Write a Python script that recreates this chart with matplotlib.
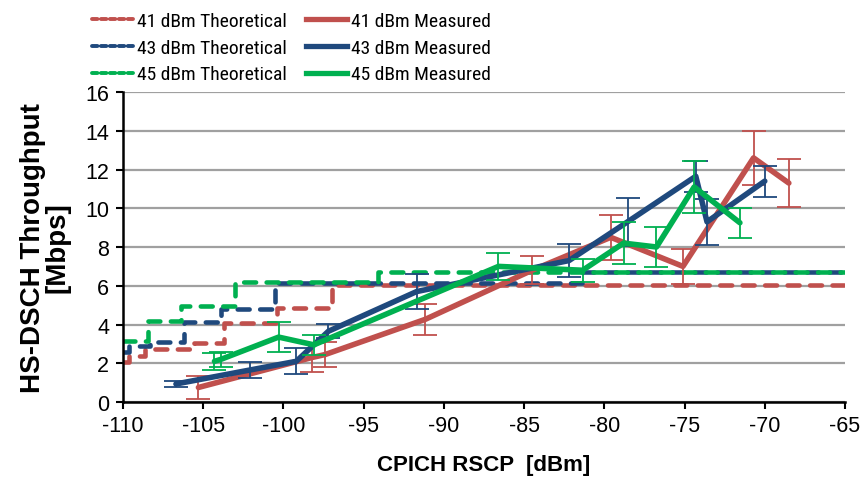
import matplotlib
matplotlib.use("Agg")
import matplotlib.pyplot as plt
from matplotlib import font_manager
from matplotlib.lines import Line2D

# Theoretical throughput (step curves)
theo_41_x = [-110, -109.6, -108.6, -105.6, -103.7, -100.4, -97.0, -65]
theo_41_y = [2.05, 2.35, 2.75, 3.05, 4.1, 4.85, 6.05, 6.05]
theo_43_x = [-110, -109.6, -108.3, -106.2, -103.9, -100.5, -81.4, -65]
theo_43_y = [2.6, 2.9, 3.1, 4.15, 4.8, 6.15, 6.7, 6.7]
theo_45_x = [-110, -108.45, -106.4, -103.05, -94.1, -65]
theo_45_y = [3.15, 4.2, 4.97, 6.18, 6.73, 6.73]

# Measured throughput with error bars
meas_41_x = [-105.3, -98.2, -97.4, -91.15, -84.5, -79.6, -75.1, -70.7, -68.5]
meas_41_y = [0.75, 2.3, 2.45, 4.27, 6.8, 8.5, 7.0, 12.6, 11.3]
meas_41_err = [0.6, 0.77, 0.63, 0.8, 0.72, 1.15, 0.9, 1.4, 1.25]

meas_43_x = [-106.7, -102.1, -99.2, -97.2, -91.7, -82.2, -78.55, -74.3, -73.6, -70.0]
meas_43_y = [0.93, 1.65, 2.1, 3.65, 5.7, 7.3, 9.3, 11.65, 9.3, 11.4]
meas_43_err = [0.17, 0.4, 0.68, 0.37, 0.9, 0.83, 1.25, 0.8, 1.2, 0.8]

meas_45_x = [-104.3, -103.9, -100.3, -98.1, -86.6, -81.35, -78.8, -76.75, -74.4, -71.55]
meas_45_y = [2.1, 2.2, 3.35, 2.95, 7.0, 6.8, 8.2, 8.0, 11.1, 9.25]
meas_45_err = [0.43, 0.4, 0.78, 0.51, 0.69, 0.6, 1.1, 1.03, 1.35, 0.78]

x_ticks = [-110, -105, -100, -95, -90, -85, -80, -75, -70, -65]
y_ticks = [0, 2, 4, 6, 8, 10, 12, 14, 16]

RED = "#C0504D"
BLUE = "#1F497D"
GREEN = "#00B050"

plt.rcParams["font.family"] = ["Liberation Sans", "DejaVu Sans"]
plt.rcParams["axes.unicode_minus"] = False

# Prefer a narrow sans for the legend if one is available
installed = {f.name for f in font_manager.fontManager.ttflist}
narrow = None
for cand in ("Liberation Sans Narrow", "Arial Narrow", "DejaVu Sans Condensed",
             "Roboto Condensed", "Open Sans Condensed"):
    if cand in installed:
        narrow = cand
        break
if narrow:
    legend_prop = {"family": [narrow, "Liberation Sans"], "size": 14}
else:
    legend_prop = {"family": ["Liberation Sans"], "size": 12}

W, H = 861, 485
L, R, T, B = 123, 845, 93, 403
fig = plt.figure(figsize=(W / 100, H / 100), dpi=100)
ax = fig.add_axes([L / W, 1 - B / H, (R - L) / W, (B - T) / H])

ax.set_xlim(-110, -65)
ax.set_ylim(0, 16)
ax.set_xticks(x_ticks)
ax.set_yticks(y_ticks)
ax.yaxis.grid(True, color="#A0A0A0", linewidth=1.6)
ax.set_axisbelow(True)
for s in ("top", "right"):
    ax.spines[s].set_visible(False)
for s in ("left", "bottom"):
    ax.spines[s].set_linewidth(1.8)
    ax.spines[s].set_color("black")
ax.tick_params(axis="both", direction="out", length=5, width=1.5, labelsize=15.5)
ax.tick_params(axis="y", pad=5)
ax.tick_params(axis="x", pad=4)

dash_kw = dict(linewidth=3.3, dashes=(2.6, 2.3), dash_capstyle="round",
               drawstyle="steps-post", zorder=2)
theo = [
    (theo_41_x, theo_41_y, RED, "41 dBm Theoretical"),
    (theo_43_x, theo_43_y, BLUE, "43 dBm Theoretical"),
    (theo_45_x, theo_45_y, GREEN, "45 dBm Theoretical"),
]
handles = []
for xs, ys, c, lab in theo:
    ax.plot(xs, ys, color=c, **dash_kw)
    handles.append(Line2D([], [], color=c, linewidth=2.8, dashes=(1.4, 0.9),
                          dash_capstyle="round", label=lab))

meas = [
    (meas_41_x, meas_41_y, meas_41_err, RED, "41 dBm Measured"),
    (meas_43_x, meas_43_y, meas_43_err, BLUE, "43 dBm Measured"),
    (meas_45_x, meas_45_y, meas_45_err, GREEN, "45 dBm Measured"),
]
for i, (xs, ys, es, c, lab) in enumerate(meas):
    ax.errorbar(xs, ys, yerr=es, color=c, linewidth=4.0, elinewidth=1.3,
                capsize=8.5, capthick=1.3, solid_capstyle="round",
                solid_joinstyle="round", zorder=3 + i)
    handles.append(Line2D([], [], color=c, linewidth=3.8, label=lab))

ax.set_xlabel("CPICH RSCP  [dBm]", fontsize=16, fontweight="bold")
ax.xaxis.set_label_coords(0.5, (B - 455) / (B - T))
ax.xaxis.label.set_va("top")
ax.set_ylabel("HS-DSCH Throughput\n[Mbps]", fontsize=20, fontweight="bold",
              linespacing=0.9)
ax.yaxis.set_label_coords((70 - L) / (R - L), 0.5)

fig.legend(handles=handles, ncol=2, loc="upper left",
           bbox_to_anchor=(92 / W, 1 - 13 / H), frameon=False,
           prop=legend_prop,
           handlelength=2.1, handletextpad=0.2, columnspacing=1.0,
           labelspacing=0.45, borderpad=0, borderaxespad=0)

fig.savefig("out.png", dpi=100)
